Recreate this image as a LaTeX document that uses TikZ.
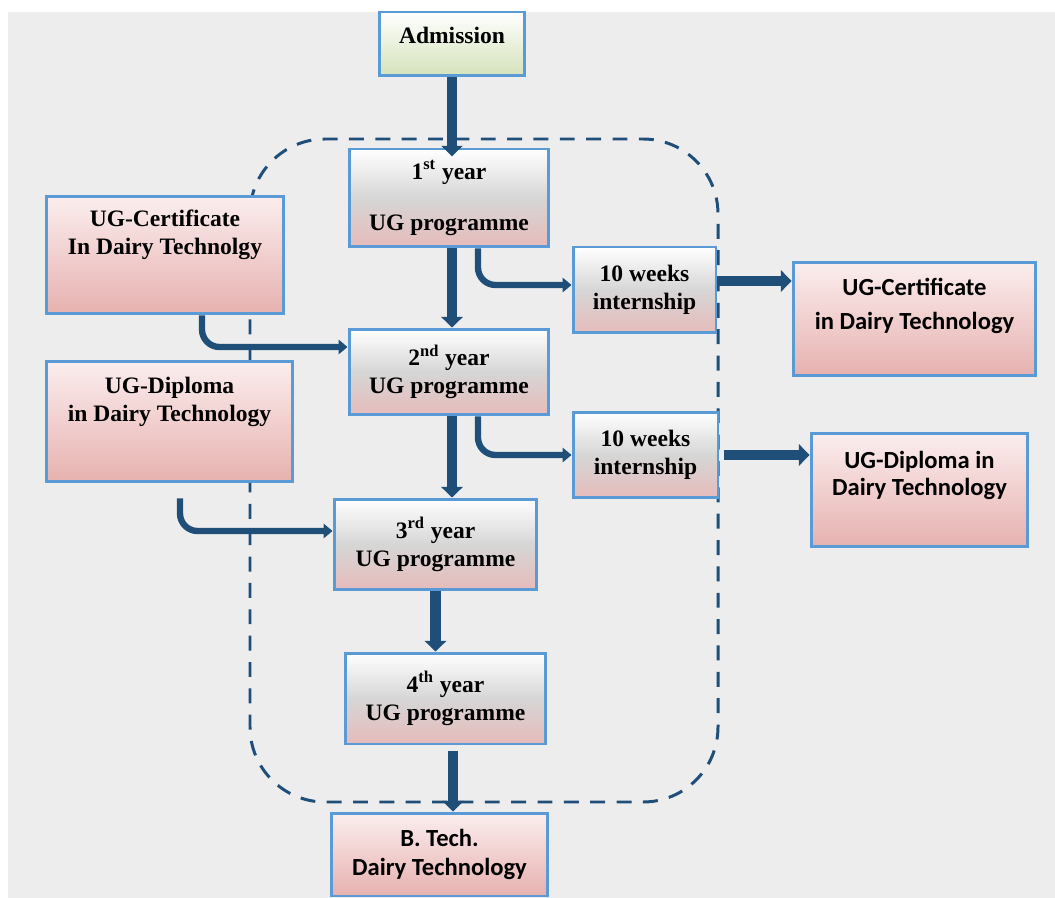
\documentclass[tikz,border=0pt]{standalone}
\usepackage{fontspec}
\setmainfont{Liberation Serif}
\newfontfamily\calib{Carlito}
\usetikzlibrary{arrows.meta}

\definecolor{cadre}{RGB}{91,155,213}
\definecolor{fleche}{RGB}{31,78,121}
\definecolor{fond}{RGB}{237,237,237}
\definecolor{roseH}{RGB}{251,238,238}
\definecolor{roseB}{RGB}{230,177,175}
\definecolor{gris}{RGB}{214,214,214}
\definecolor{roseA}{RGB}{230,187,186}
\definecolor{vert}{RGB}{212,226,186}

\begin{document}
\begin{tikzpicture}[x=0.02cm,y=-0.02cm,
  boite/.style={draw=cadre,line width=1.7pt,align=center,inner sep=2pt,
    font=\bfseries\fontsize{13.4}{16}\selectfont},
  annee/.style={boite,top color=white,bottom color=roseA,middle color=gris},
  rose/.style={boite,top color=roseH,bottom color=roseB},
  calibri/.style={font=\calib\bfseries\fontsize{14}{17}\selectfont},
  grosse/.style={draw=fleche,line width=5.7pt,-{Triangle[width=12pt,length=6pt]}},
  fine/.style={draw=fleche,line width=3.6pt,rounded corners=0.35cm,-{Triangle[width=8pt,length=5pt]}},
  cadrepointille/.style={draw=fleche,line width=1.7pt,dash pattern=on 8.5pt off 6.5pt}]

\useasboundingbox (0,0) rectangle (1055,898);
\fill[white] (0,0) rectangle (1055,898);
\fill[fond] (8,12) rectangle (1055,898);

%%%%%%%%%%%%%%%%%%%%%%%%
%cadre pointille (programme)
%%%%%%%%%%%%%%%%%%%%%%%%
\draw[cadrepointille,rounded corners=1.5cm] (250,139) rectangle (718,802);

%%%%%%%%%%%%%%%%%%%%%%%%
%les boites
%%%%%%%%%%%%%%%%%%%%%%%%
\node[boite,top color=white,bottom color=vert,minimum width=2.92cm,minimum height=1.28cm,text depth=0.35cm] (adm) at (452,44) {Admission};

\node[annee,minimum width=4cm,minimum height=1.96cm] (y1) at (449,198) {1\textsuperscript{st} year\\[13pt]UG programme};
\node[annee,minimum width=4cm,minimum height=1.72cm] (y2) at (449,372) {2\textsuperscript{nd} year\\UG programme};
\node[annee,minimum width=4.06cm,minimum height=1.82cm] (y3) at (435.5,544.5) {3\textsuperscript{rd} year\\UG programme};
\node[annee,minimum width=4.02cm,minimum height=1.82cm] (y4) at (445.5,698.5) {4\textsuperscript{th} year\\UG programme};

\node[annee,minimum width=2.86cm,minimum height=1.72cm] (int1) at (644.5,290) {10 weeks\\internship};
\node[annee,minimum width=2.9cm,minimum height=1.72cm] (int2) at (645.5,455) {10 weeks\\internship};

\node[rose,minimum width=4.76cm,minimum height=2.36cm,text depth=0.9cm] (certG) at (165,255) {UG-Certificate\\In Dairy Technolgy};
\node[rose,minimum width=4.94cm,minimum height=2.42cm,text depth=0.9cm] (diplG) at (169.5,421.5) {UG-Diploma\\in Dairy Technology};

\node[rose,calibri,minimum width=4.86cm,minimum height=2.28cm,text depth=0.6cm,
  font=\calib\bfseries\fontsize{14}{19}\selectfont] (certD) at (914.5,319) {UG-Certificate\\in Dairy Technology};
\node[rose,calibri,minimum width=4.34cm,minimum height=2.28cm,text depth=0.65cm,
  font=\calib\bfseries\fontsize{14}{15.5}\selectfont] (diplD) at (919.5,490) {UG-Diploma in\\Dairy Technology};
\node[rose,calibri,minimum width=4.34cm,minimum height=1.66cm,
  font=\calib\bfseries\fontsize{14}{16}\selectfont] (btech) at (439.5,854.5) {B. Tech.\\Dairy Technology};

%%%%%%%%%%%%%%%%%%%%%%%%
%les fleches
%%%%%%%%%%%%%%%%%%%%%%%%
\draw[grosse,shorten >=-5pt] (adm.south) -- (adm.south |- y1.north);
\draw[grosse] ([xshift=0.06cm]y1.south) -- ([xshift=0.06cm]y1.south |- y2.north);
\draw[grosse] ([xshift=0.06cm]y2.south) -- ([xshift=0.06cm]y2.south |- y3.north);
\draw[grosse] (y3.south) -- (y3.south |- y4.north);
\draw[grosse] ([xshift=0.15cm,yshift=-0.12cm]y4.south) -- ([xshift=0.15cm]y4.south |- btech.north);

\draw[fine] ([xshift=0.58cm]y1.south) |- ([yshift=0.1cm]int1.west);
\draw[fine] ([xshift=0.58cm]y2.south) |- (int2.west);
\draw[fine] ([xshift=0.74cm]certG.south) |- ([yshift=0.5cm]y2.west);
\draw[fine] ([xshift=0.21cm,yshift=-0.3cm]diplG.south) |- ([yshift=0.27cm]y3.west);

\draw[grosse] ([yshift=0.18cm]int1.east) -- ([yshift=0.18cm]int1.east -| certD.west);
\draw[grosse] ([xshift=0.1cm]int2.east) -- (int2.east -| diplD.west);

\end{tikzpicture}
\end{document}
